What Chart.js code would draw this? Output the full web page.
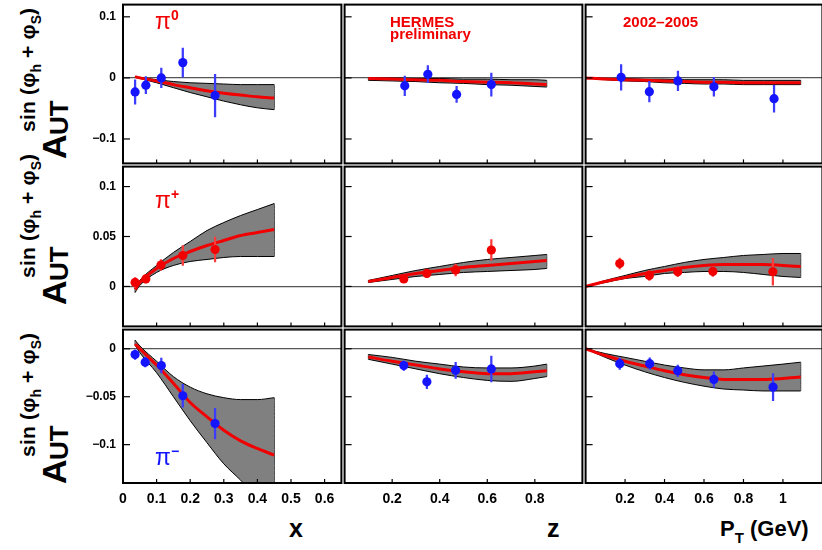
<!DOCTYPE html>
<html>
<head>
<meta charset="utf-8">
<script src="https://cdn.jsdelivr.net/npm/chart.js@4.4.1/dist/chart.umd.min.js"></script>
<style>
html, body { margin: 0; padding: 0; background: #fff; overflow: hidden; }
#wrap { position: relative; width: 822px; height: 550px; overflow: hidden; font-family: "Liberation Sans", Arial, sans-serif; }
#wrap canvas { position: absolute; }
.txt { position: absolute; white-space: nowrap; line-height: 1; font-weight: bold; }
.ytit { position: absolute; left: 0; width: 170px; height: 80px; transform-origin: 0 0; transform: rotate(-90deg); font-weight: bold; color: #000; }
.ytit span { position: absolute; line-height: 1; white-space: nowrap; }
.yA { left: 0; top: 37px; font-size: 34px; }
.yUT { left: 24px; top: 46px; font-size: 26px; }
.ySup { left: 27px; top: 17px; font-size: 21px; letter-spacing: 0.2px; }
.ySup sub { font-size: 14px; vertical-align: -6px; line-height: 0; letter-spacing: 0; }
.pi { font-weight: normal; font-size: 23px; }
.pisup { font-size: 14px; }
</style>
</head>
<body>
<div id="wrap">
  <div class="ytit" style="top:159px"><span class="yA">A</span><span class="yUT">UT</span><span class="ySup">sin (φ<sub>h</sub> + φ<sub>S</sub>)</span></div>
  <div class="ytit" style="top:305px"><span class="yA">A</span><span class="yUT">UT</span><span class="ySup">sin (φ<sub>h</sub> + φ<sub>S</sub>)</span></div>
  <div class="ytit" style="top:484px"><span class="yA">A</span><span class="yUT">UT</span><span class="ySup">sin (φ<sub>h</sub> + φ<sub>S</sub>)</span></div>

  <div class="txt" style="left:289px;top:516px;font-size:25px">x</div>
  <div class="txt" style="left:547px;top:516px;font-size:25px">z</div>
  <div class="txt" style="left:720px;top:518px;font-size:22px">P<sub style="font-size:15px;vertical-align:-7px;line-height:0">T</sub> (GeV)</div>
</div>

<script>
// ===== Datos =====
const xTicksX = [0, 0.1, 0.2, 0.3, 0.4, 0.5, 0.6];
const xTicksZ = [0.2, 0.4, 0.6, 0.8];
const xTicksPt = [0.2, 0.4, 0.6, 0.8, 1];
const yTicksPi0 = [-0.1, 0, 0.1];
const yTicksPip = [0, 0.05, 0.1];
const yTicksPim = [-0.1, -0.05, 0];

// rejillas donde se leyeron las curvas teóricas
const curveX = [0.036, 0.05, 0.1, 0.15, 0.2, 0.25, 0.3, 0.35, 0.4, 0.45];
const curveZ = [0.1, 0.2, 0.3, 0.4, 0.5, 0.6, 0.7, 0.8, 0.85];
const curvePt = [0, 0.1, 0.2, 0.3, 0.4, 0.5, 0.6, 0.7, 0.8, 0.9, 1.0, 1.09];

// pi0
const pi0XPts = [0.036, 0.068, 0.114, 0.178, 0.274];
const pi0XVal = [-0.023, -0.012, 0.000, 0.025, -0.029];
const pi0XErr = [0.020, 0.014, 0.016, 0.024, 0.035];
const pi0XFit = [0.002, 0.000, -0.005, -0.011, -0.016, -0.021, -0.025, -0.028, -0.031, -0.033];
const pi0XUp  = [0.002, 0.001, -0.003, -0.006, -0.008, -0.009, -0.010, -0.011, -0.011, -0.011];
const pi0XLo  = [0.001, -0.001, -0.008, -0.016, -0.024, -0.031, -0.038, -0.044, -0.049, -0.052];

const pi0ZPts = [0.253, 0.350, 0.471, 0.617];
const pi0ZVal = [-0.013, 0.006, -0.027, -0.011];
const pi0ZErr = [0.016, 0.014, 0.013, 0.019];
const pi0ZFit = [-0.001, -0.002, -0.003, -0.004, -0.006, -0.007, -0.008, -0.010, -0.011];
const pi0ZUp  = [0.000, 0.000, -0.001, -0.001, -0.002, -0.002, -0.003, -0.003, -0.004];
const pi0ZLo  = [-0.004, -0.005, -0.006, -0.008, -0.009, -0.011, -0.012, -0.014, -0.015];

const pi0PtPts = [0.180, 0.323, 0.468, 0.650, 0.955];
const pi0PtVal = [0.001, -0.0225, -0.005, -0.0145, -0.034];
const pi0PtErr = [0.021, 0.017, 0.016, 0.0155, 0.022];
const pi0PtFit = [0, -0.002, -0.003, -0.004, -0.005, -0.006, -0.007, -0.007, -0.008, -0.008, -0.008, -0.008];
const pi0PtUp  = [0, -0.001, -0.001, -0.002, -0.002, -0.003, -0.003, -0.003, -0.004, -0.004, -0.004, -0.004];
const pi0PtLo  = [0, -0.003, -0.005, -0.006, -0.008, -0.009, -0.010, -0.010, -0.011, -0.011, -0.011, -0.011];

// pi+
const pipXPts = [0.036, 0.068, 0.113, 0.178, 0.274];
const pipXVal = [0.004, 0.0075, 0.0215, 0.031, 0.037];
const pipXErr = [0.005, 0.004, 0.0055, 0.010, 0.0125];
const pipXFit = [-0.003, 0.004, 0.018, 0.028, 0.035, 0.041, 0.046, 0.051, 0.054, 0.057];
const pipXUp  = [-0.001, 0.006, 0.021, 0.034, 0.045, 0.056, 0.064, 0.071, 0.077, 0.083];
const pipXLo  = [-0.006, 0.001, 0.014, 0.021, 0.025, 0.027, 0.029, 0.030, 0.030, 0.030];

const pipZPts = [0.249, 0.346, 0.467, 0.617];
const pipZVal = [0.0075, 0.013, 0.0165, 0.0365];
const pipZErr = [0.003, 0.004, 0.006, 0.0105];
const pipZFit = [0.005, 0.009, 0.013, 0.016, 0.019, 0.021, 0.023, 0.025, 0.026];
const pipZUp  = [0.006, 0.011, 0.016, 0.020, 0.024, 0.027, 0.029, 0.031, 0.032];
const pipZLo  = [0.004, 0.007, 0.010, 0.012, 0.014, 0.015, 0.016, 0.017, 0.018];

const pipPtPts = [0.173, 0.323, 0.467, 0.645, 0.949];
const pipPtVal = [0.023, 0.011, 0.0147, 0.015, 0.0147];
const pipPtErr = [0.0055, 0.005, 0.005, 0.005, 0.0135];
const pipPtFit = [0, 0.005, 0.009, 0.013, 0.016, 0.019, 0.021, 0.022, 0.022, 0.022, 0.021, 0.020];
const pipPtUp  = [0, 0.006, 0.011, 0.016, 0.020, 0.024, 0.027, 0.029, 0.031, 0.032, 0.033, 0.033];
const pipPtLo  = [0, 0.004, 0.008, 0.010, 0.013, 0.014, 0.015, 0.015, 0.014, 0.012, 0.010, 0.009];

// pi-
const pimXPts = [0.036, 0.066, 0.114, 0.178, 0.274];
const pimXVal = [-0.006, -0.014, -0.0175, -0.049, -0.078];
const pimXErr = [0.005, 0.005, 0.0078, 0.012, 0.016];
const pimXFit = [0.005, 0.000, -0.017, -0.036, -0.056, -0.071, -0.085, -0.096, -0.104, -0.111];
const pimXUp  = [0.009, 0.003, -0.013, -0.029, -0.040, -0.047, -0.051, -0.053, -0.053, -0.051];
const pimXLo  = [0.004, -0.004, -0.025, -0.050, -0.075, -0.098, -0.120, -0.137, -0.155, -0.170];

const pimZPts = [0.249, 0.346, 0.467, 0.617];
const pimZVal = [-0.0175, -0.0345, -0.0225, -0.021];
const pimZErr = [0.005, 0.007, 0.0083, 0.0135];
const pimZFit = [-0.0085, -0.013, -0.017, -0.021, -0.024, -0.026, -0.026, -0.024, -0.023];
const pimZUp  = [-0.006, -0.009, -0.013, -0.016, -0.019, -0.020, -0.020, -0.018, -0.016];
const pimZLo  = [-0.011, -0.016, -0.021, -0.026, -0.030, -0.033, -0.034, -0.031, -0.029];

const pimPtPts = [0.173, 0.325, 0.467, 0.650, 0.950];
const pimPtVal = [-0.0155, -0.0155, -0.023, -0.032, -0.040];
const pimPtErr = [0.006, 0.006, 0.006, 0.008, 0.014];
const pimPtFit = [0, -0.007, -0.013, -0.018, -0.023, -0.027, -0.030, -0.032, -0.032, -0.032, -0.031, -0.0295];
const pimPtUp  = [0, -0.005, -0.009, -0.013, -0.017, -0.020, -0.022, -0.022, -0.020, -0.018, -0.016, -0.014];
const pimPtLo  = [0, -0.009, -0.017, -0.024, -0.030, -0.035, -0.039, -0.042, -0.043, -0.044, -0.044, -0.044];

// ===== Geometría de los paneles =====
const COL_L = [123, 343, 584];
const COL_R = [343, 584, 824];
const ROW_T = [3, 165, 328];
const ROW_B = [165, 328, 483];
const X_RANGE = [[0, 0.65], [0, 1], [0, 1.2]];
const Y_RANGE = [[-0.14, 0.12], [-0.04, 0.12], [-0.14, 0.02]];
const X_TICKS = [xTicksX, xTicksZ, xTicksPt];
const Y_TICKS = [yTicksPi0, yTicksPip, yTicksPim];
const CURVES = [curveX, curveZ, curvePt];
const PAD = 3;
const FONT = '"Liberation Sans", Arial, sans-serif';

const AZUL = '#1414ff';
const ROJO = '#f00000';

function fmt(v) {
    if (v === 0) return '0';
    return (v < 0 ? '\u2212' : '') + Math.abs(v);
}

// sin relleno extra de las etiquetas: el área del gráfico queda fija
function sinPadding(s) {
    s.paddingTop = 0; s.paddingBottom = 0; s.paddingLeft = 0; s.paddingRight = 0;
}

// marco negro y marcas hacia dentro
const marco = {
    id: 'marco',
    afterDraw(chart) {
        const { ctx, chartArea: a, scales } = chart;
        ctx.save();
        ctx.strokeStyle = '#000';
        ctx.lineWidth = 1.2;
        scales.x.ticks.forEach(t => {
            const px = scales.x.getPixelForValue(t.value);
            if (px <= a.left + 1 || px >= a.right - 1) return;
            ctx.beginPath(); ctx.moveTo(px, a.bottom); ctx.lineTo(px, a.bottom - 4); ctx.stroke();
        });
        scales.y.ticks.forEach(t => {
            const py = scales.y.getPixelForValue(t.value);
            ctx.beginPath(); ctx.moveTo(a.left, py); ctx.lineTo(a.left + 7, py); ctx.stroke();
        });
        ctx.lineWidth = 2;
        ctx.strokeRect(a.left, a.top, a.right - a.left, a.bottom - a.top);
        ctx.restore();
    }
};

function crearPanel(row, col, pts, vals, errs, fit, up, lo, color, errColor) {
    const curve = CURVES[col];
    const yW = col === 0 ? 60 : 0;
    const xH = row === 2 ? 40 : 0;
    const w = COL_R[col] - COL_L[col];
    const h = ROW_B[row] - ROW_T[row];

    const canvas = document.createElement('canvas');
    canvas.width = w + yW + 2 * PAD;
    canvas.height = h + xH + 2 * PAD;
    canvas.style.left = (COL_L[col] - yW - PAD) + 'px';
    canvas.style.top = (ROW_T[row] - PAD) + 'px';
    canvas.style.width = canvas.width + 'px';
    canvas.style.height = canvas.height + 'px';
    document.getElementById('wrap').appendChild(canvas);

    const xy = (xs, ys) => xs.map((x, i) => ({ x, y: ys[i] }));
    const xEnd = curve[curve.length - 1];
    const xIni = curve[0];

    const lineaBanda = {
        type: 'line', borderColor: '#000', borderWidth: 1, pointRadius: 0,
        cubicInterpolationMode: 'monotone'
    };

    return new Chart(canvas, {
        type: 'line',
        data: {
            datasets: [
                {
                    type: 'scatter', data: xy(pts, vals),
                    backgroundColor: color, borderWidth: 0, pointRadius: 4.6
                },
                {
                    type: 'bar', data: pts.map((x, i) => ({ x, y: [vals[i] - errs[i], vals[i] + errs[i]] })),
                    backgroundColor: errColor, barThickness: 1.6, grouped: false
                },
                {
                    ...lineaBanda, data: xy(curve, fit), borderColor: ROJO, borderWidth: 3
                },
                { ...lineaBanda, data: xy(curve, up), fill: false },
                { ...lineaBanda, data: xy(curve, lo), fill: '-1', backgroundColor: '#808080' },
                { ...lineaBanda, data: [{ x: xEnd, y: up[up.length - 1] }, { x: xEnd, y: lo[lo.length - 1] }] },
                { ...lineaBanda, data: [{ x: xIni, y: up[0] }, { x: xIni, y: lo[0] }] }
            ]
        },
        options: {
            responsive: false,
            animation: false,
            devicePixelRatio: 1,
            events: [],
            layout: { padding: PAD },
            plugins: { legend: { display: false }, tooltip: { enabled: false } },
            scales: {
                x: {
                    type: 'linear', min: X_RANGE[col][0], max: X_RANGE[col][1], offset: false,
                    afterBuildTicks: s => { s.ticks = X_TICKS[col].map(v => ({ value: v })); },
                    afterFit: s => { s.height = xH; sinPadding(s); },
                    grid: { display: false, drawTicks: false },
                    border: { display: false },
                    ticks: {
                        display: row === 2, autoSkip: false, maxRotation: 0, padding: 8,
                        color: '#000', font: { family: FONT, size: 14, weight: 'bold' },
                        callback: v => fmt(v)
                    }
                },
                y: {
                    type: 'linear', min: Y_RANGE[row][0], max: Y_RANGE[row][1],
                    afterBuildTicks: s => { s.ticks = Y_TICKS[row].map(v => ({ value: v })); },
                    afterFit: s => { s.width = yW; sinPadding(s); },
                    grid: {
                        drawTicks: false, lineWidth: 1.2,
                        color: c => (c.tick && c.tick.value === 0) ? '#555' : 'rgba(0,0,0,0)'
                    },
                    border: { display: false },
                    ticks: {
                        display: col === 0, padding: 7,
                        color: '#000', font: { family: FONT, size: 12, weight: 'bold' },
                        callback: v => fmt(v)
                    }
                }
            }
        },
        plugins: [marco]
    });
}

// ===== Paneles =====
crearPanel(0, 0, pi0XPts, pi0XVal, pi0XErr, pi0XFit, pi0XUp, pi0XLo, AZUL, '#3c3cff');
crearPanel(0, 1, pi0ZPts, pi0ZVal, pi0ZErr, pi0ZFit, pi0ZUp, pi0ZLo, AZUL, '#3c3cff');
crearPanel(0, 2, pi0PtPts, pi0PtVal, pi0PtErr, pi0PtFit, pi0PtUp, pi0PtLo, AZUL, '#3c3cff');
crearPanel(1, 0, pipXPts, pipXVal, pipXErr, pipXFit, pipXUp, pipXLo, ROJO, '#ff3c3c');
crearPanel(1, 1, pipZPts, pipZVal, pipZErr, pipZFit, pipZUp, pipZLo, ROJO, '#ff3c3c');
crearPanel(1, 2, pipPtPts, pipPtVal, pipPtErr, pipPtFit, pipPtUp, pipPtLo, ROJO, '#ff3c3c');
crearPanel(2, 0, pimXPts, pimXVal, pimXErr, pimXFit, pimXUp, pimXLo, AZUL, '#3c3cff');
crearPanel(2, 1, pimZPts, pimZVal, pimZErr, pimZFit, pimZUp, pimZLo, AZUL, '#3c3cff');
crearPanel(2, 2, pimPtPts, pimPtVal, pimPtErr, pimPtFit, pimPtUp, pimPtLo, AZUL, '#3c3cff');

// ===== Rótulos dentro de los paneles (encima de los canvas) =====
const wrap = document.getElementById('wrap');
wrap.insertAdjacentHTML('beforeend', `
  <div class="txt" style="left:155px;top:8px;color:#f00000"><span class="pi">π</span><span class="pisup" style="vertical-align:9px">0</span></div>
  <div class="txt" style="left:155px;top:187px;color:#f00000"><span class="pi">π</span><span class="pisup" style="vertical-align:9px">+</span></div>
  <div class="txt" style="left:155px;top:444px;color:#1414ff"><span class="pi">π</span><span class="pisup" style="vertical-align:9px">\u2212</span></div>
  <div class="txt" style="left:390px;top:14px;font-size:15px;color:#f00000">HERMES</div>
  <div class="txt" style="left:390px;top:26px;font-size:15px;color:#f00000">preliminary</div>
  <div class="txt" style="left:623px;top:14px;font-size:15px;color:#f00000">2002\u20132005</div>
`);
</script>
</body>
</html>
